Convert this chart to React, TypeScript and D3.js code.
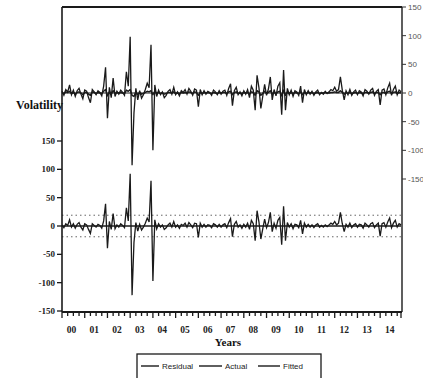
import React from "react";
import * as d3 from "d3";

// Monthly observations, 2000M01 - 2014M12
const years = ["00", "01", "02", "03", "04", "05", "06", "07", "08", "09", "10", "11", "12", "13", "14"];

const actual = [
  3, -4, 6, 2, 14, -3, 5, -6, 4, 8, -2, -10,
  5, 3, -8, -17, 6, 2, -3, 4, 1, -5, 12, 45,
  -44, 10, -8, 26, -6, 3, -2, 5, 1, -4, 37, 12,
  98, -126, -35, 8, -12, 4, -9, -3, 6, 17, 9, 84,
  -100, 14, -6, 5, -3, 2, -8, -4, 3, 6, -2, 10,
  -3, 2, -5, 4, 1, 6, -2, 8, 3, -4, 7, 5,
  -24, 6, -3, 4, -2, 3, 1, -4, 5, 2, -3, 4,
  -2, 3, 5, -4, 8, 16, -22, 4, 10, -3, 2, -5,
  4, -2, 6, -8, 12, 5, -30, 31, 9, -27, -6, 15,
  -4, 7, 28, -12, 6, -5, 12, 18, -38, 40, -30, 8,
  -3, 5, -6, 4, 2, -4, 12, -17, 6, -3, 4, -2,
  3, -4, 2, 5, -3, 1, -2, 3, -1, 2, 6, 4,
  10, 3, 6, 28, 5, -12, 4, -3, 6, -4, 2, 5,
  -3, 4, 2, -5, 6, 3, -2, 5, 8, -4, 3, 6,
  -21, 5, 7, -3, 9, 17, -4, 6, 12, -3, 5, 2,
];

const fitted = [
  1, -1, 2, 1, 3, -1, 1, -2, 1, 2, 0, -3,
  1, 1, -2, -4, 2, 1, -1, 1, 0, -1, 3, 6,
  -5, 2, -2, 4, -1, 1, 0, 1, 0, -1, 5, 3,
  6, -4, -6, 2, -3, 1, -2, -1, 1, 3, 2, 4,
  -3, 3, -1, 1, -1, 0, -2, -1, 1, 1, 0, 2,
  -1, 0, -1, 1, 0, 1, 0, 2, 1, -1, 2, 1,
  -4, 1, -1, 1, 0, 1, 0, -1, 1, 0, -1, 1,
  0, 1, 1, -1, 2, 3, -3, 1, 2, -1, 0, -1,
  1, 0, 1, -2, 2, 1, -4, 4, 2, -4, -1, 3,
  -1, 1, 4, -2, 1, -1, 2, 3, -5, 5, -4, 2,
  -1, 1, -1, 1, 0, -1, 2, -3, 1, -1, 1, 0,
  1, -1, 0, 1, -1, 0, 0, 1, 0, 0, 1, 1,
  2, 1, 1, 4, 1, -2, 1, -1, 1, -1, 0, 1,
  -1, 1, 0, -1, 1, 1, 0, 1, 2, -1, 1, 1,
  -3, 1, 1, -1, 2, 3, -1, 1, 2, -1, 1, 0,
];

const residual = [
  2, -3, 4, 1, 11, -2, 4, -4, 3, 6, -2, -7,
  4, 2, -6, -13, 4, 1, -2, 3, 1, -4, 9, 39,
  -39, 8, -6, 22, -5, 2, -2, 4, 1, -3, 32, 9,
  92, -122, -29, 6, -9, 3, -7, -2, 5, 14, 7, 80,
  -97, 11, -5, 4, -2, 2, -6, -3, 2, 5, -2, 8,
  -2, 2, -4, 3, 1, 5, -2, 6, 2, -3, 5, 4,
  -20, 5, -2, 3, -2, 2, 1, -3, 4, 2, -2, 3,
  -2, 2, 4, -3, 6, 13, -19, 3, 8, -2, 2, -4,
  3, -2, 5, -6, 10, 4, -26, 27, 7, -23, -5, 12,
  -3, 6, 24, -10, 5, -4, 10, 15, -33, 35, -26, 6,
  -2, 4, -5, 3, 2, -3, 10, -14, 5, -2, 3, -2,
  2, -3, 2, 4, -2, 1, -2, 2, -1, 2, 5, 3,
  8, 2, 5, 24, 4, -10, 3, -2, 5, -3, 2, 4,
  -2, 3, 2, -4, 5, 2, -2, 4, 6, -3, 2, 5,
  -18, 4, 6, -2, 7, 14, -3, 5, 10, -2, 4, 2,
];

// Standard error band drawn around the residual
const residualSE = 19;

const leftTicks = [150, 100, 50, 0, -50, -100, -150];
const rightTicks = [150, 100, 50, 0, -50, -100, -150];

const legendItems = ["Residual", "Actual", "Fitted"];

const W = 423;
const H = 378;
const L = 62;
const R = 401;
const T = 7;
const B = 312;

export default function App() {
  const x = d3.scaleLinear().domain([0, actual.length - 1]).range([L, R]);
  const yLeft = d3.scaleLinear().domain([-150, 150]).range([311, 141]);
  const yRight = d3.scaleLinear().domain([-150, 150]).range([179, 7]);

  const lineLeft = d3
    .line<number>()
    .x((_, i) => x(i))
    .y((d) => yLeft(d));
  const lineRight = d3
    .line<number>()
    .x((_, i) => x(i))
    .y((d) => yRight(d));

  const quarterTicks = d3.range(0, actual.length + 1, 3);
  const ink = "#1a1a1a";
  const serif = "'Liberation Serif', 'DejaVu Serif', serif";
  const sans = "'Liberation Sans', Arial, sans-serif";

  const legendLines = [
    { x0: 141, len: 18 },
    { x0: 199, len: 23 },
    { x0: 258, len: 22 },
  ];

  return (
    <svg
      width={W}
      height={H}
      style={{ position: "fixed", left: 0, top: 0, background: "#fff" }}
    >
      {/* standard error band */}
      {[residualSE, -residualSE].map((v) => (
        <line
          key={v}
          x1={L}
          x2={R}
          y1={yLeft(v)}
          y2={yLeft(v)}
          stroke="#666"
          strokeWidth={1}
          strokeDasharray="1.5 3"
        />
      ))}

      {/* series */}
      <path d={lineLeft(residual) || ""} fill="none" stroke={ink} strokeWidth={1.3} strokeLinejoin="miter" />
      <path d={lineRight(actual) || ""} fill="none" stroke={ink} strokeWidth={1.3} strokeLinejoin="miter" />
      <path d={lineRight(fitted) || ""} fill="none" stroke={ink} strokeWidth={1.5} strokeLinejoin="round" />
      <line x1={L} x2={R} y1={yLeft(0)} y2={yLeft(0)} stroke={ink} strokeWidth={1.6} />
      <line x1={L} x2={R} y1={yRight(0)} y2={yRight(0)} stroke={ink} strokeWidth={1.2} />

      {/* frame */}
      <line x1={L} x2={R + 1} y1={T} y2={T} stroke={ink} strokeWidth={2} />
      <line x1={L} x2={L} y1={T} y2={B} stroke={ink} strokeWidth={1.6} />
      <line x1={R + 1} x2={R + 1} y1={T} y2={B} stroke={ink} strokeWidth={1.4} />
      <line x1={L} x2={R + 1} y1={B} y2={B} stroke={ink} strokeWidth={1.8} />

      {/* left axis */}
      {leftTicks.map((v) => (
        <g key={v}>
          <line x1={L - 5} x2={L} y1={yLeft(v)} y2={yLeft(v)} stroke={ink} strokeWidth={1.3} />
          <text
            x={L - 7}
            y={yLeft(v) + 3}
            textAnchor="end"
            fontFamily={serif}
            fontWeight="bold"
            fontSize={9}
            fill="#222"
          >
            {v}
          </text>
        </g>
      ))}
      <text x={63} y={109} textAnchor="end" fontFamily={serif} fontWeight="bold" fontSize={12} fill="#111">
        Volatility
      </text>

      {/* right axis */}
      {rightTicks.map((v) => (
        <g key={v}>
          <line x1={R + 1} x2={R + 5} y1={yRight(v)} y2={yRight(v)} stroke="#333" strokeWidth={1} />
          <text x={R + 7} y={yRight(v) + 3} fontFamily={sans} fontSize={8} fill="#555">
            {v}
          </text>
        </g>
      ))}

      {/* bottom axis */}
      {quarterTicks.map((q) => (
        <line
          key={q}
          x1={x(Math.min(q, actual.length - 1))}
          x2={x(Math.min(q, actual.length - 1))}
          y1={B}
          y2={B + (q % 12 === 0 ? 6 : 4)}
          stroke={ink}
          strokeWidth={1.3}
        />
      ))}
      {years.map((yr, k) => (
        <text
          key={yr}
          x={x(12 * k + 5)}
          y={333}
          textAnchor="middle"
          fontFamily={serif}
          fontWeight="bold"
          fontSize={9.5}
          fill="#222"
        >
          {yr}
        </text>
      ))}
      <text x={228} y={346} textAnchor="middle" fontFamily={serif} fontWeight="bold" fontSize={11} fill="#111">
        Years
      </text>

      {/* legend */}
      <rect x={137} y={354} width={184} height={34} fill="#fff" stroke={ink} strokeWidth={1.3} />
      {legendItems.map((name, i) => {
        const { x0, len } = legendLines[i];
        return (
          <g key={name}>
            <line x1={x0} x2={x0 + len} y1={366} y2={366} stroke={ink} strokeWidth={1.4} />
            <text x={x0 + len + 3} y={369} fontFamily={sans} fontSize={8} fill="#222">
              {name}
            </text>
          </g>
        );
      })}
    </svg>
  );
}
